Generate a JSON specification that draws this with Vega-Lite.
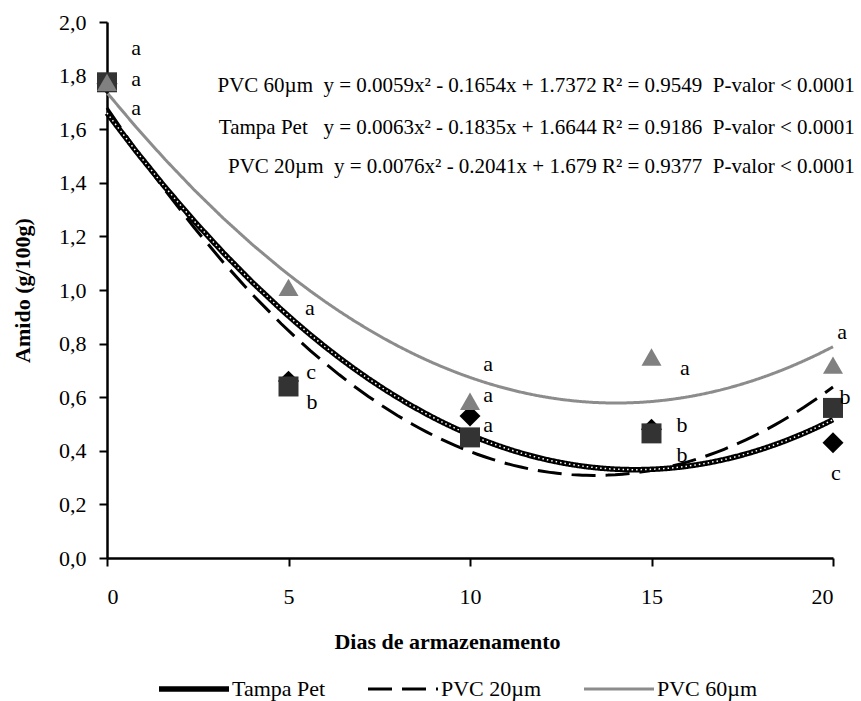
{
  "$schema": "https://vega.github.io/schema/vega-lite/v6.json",
  "width": 726,
  "height": 536,
  "autosize": {"type": "none"},
  "padding": {"left": 107, "top": 22, "right": 28, "bottom": 143},
  "background": "white",
  "config": {
    "view": {"stroke": null},
    "font": "Liberation Serif",
    "axis": {
      "grid": false,
      "domainColor": "black",
      "domainWidth": 2.5,
      "tickColor": "black",
      "tickWidth": 2,
      "tickSize": 8,
      "labelColor": "black",
      "labelFont": "Liberation Serif",
      "labelFontSize": 22,
      "titleFont": "Liberation Serif",
      "titleFontSize": 22,
      "titleFontWeight": "bold",
      "titleColor": "black"
    }
  },
  "datasets": {
    "pts": [
      {"serie": "Tampa Pet", "dia": 0, "amido": 1.77},
      {"serie": "Tampa Pet", "dia": 5, "amido": 0.66},
      {"serie": "Tampa Pet", "dia": 10, "amido": 0.53},
      {"serie": "Tampa Pet", "dia": 15, "amido": 0.48},
      {"serie": "Tampa Pet", "dia": 20, "amido": 0.43},
      {"serie": "PVC 20µm", "dia": 0, "amido": 1.775},
      {"serie": "PVC 20µm", "dia": 5, "amido": 0.64},
      {"serie": "PVC 20µm", "dia": 10, "amido": 0.45},
      {"serie": "PVC 20µm", "dia": 15, "amido": 0.465},
      {"serie": "PVC 20µm", "dia": 20, "amido": 0.56},
      {"serie": "PVC 60µm", "dia": 0, "amido": 1.775},
      {"serie": "PVC 60µm", "dia": 5, "amido": 1.01},
      {"serie": "PVC 60µm", "dia": 10, "amido": 0.585},
      {"serie": "PVC 60µm", "dia": 15, "amido": 0.75},
      {"serie": "PVC 60µm", "dia": 20, "amido": 0.72}
    ],
    "letras": [
      {"dia": 0.8, "amido": 1.903, "letra": "a"},
      {"dia": 0.8, "amido": 1.787, "letra": "a"},
      {"dia": 0.8, "amido": 1.679, "letra": "a"},
      {"dia": 5.59, "amido": 0.933, "letra": "a"},
      {"dia": 5.62, "amido": 0.694, "letra": "c"},
      {"dia": 5.65, "amido": 0.582, "letra": "b"},
      {"dia": 10.5, "amido": 0.724, "letra": "a"},
      {"dia": 10.5, "amido": 0.608, "letra": "a"},
      {"dia": 10.5, "amido": 0.496, "letra": "a"},
      {"dia": 15.92, "amido": 0.709, "letra": "a"},
      {"dia": 15.84, "amido": 0.496, "letra": "b"},
      {"dia": 15.84, "amido": 0.384, "letra": "b"},
      {"dia": 20.25, "amido": 0.843, "letra": "a"},
      {"dia": 20.33, "amido": 0.6, "letra": "b"},
      {"dia": 20.08, "amido": 0.317, "letra": "c"}
    ],
    "equacoes": [
      {"dia": 20.6, "amido": 1.761, "texto": "PVC 60µm\u00a0 y = 0.0059x² - 0.1654x + 1.7372 R² = 0.9549\u00a0 P-valor < 0.0001"},
      {"dia": 20.6, "amido": 1.604, "texto": "Tampa Pet\u00a0\u00a0 y = 0.0063x² - 0.1835x + 1.6644 R² = 0.9186\u00a0 P-valor < 0.0001"},
      {"dia": 20.6, "amido": 1.459, "texto": "PVC 20µm\u00a0 y = 0.0076x² - 0.2041x + 1.679 R² = 0.9377\u00a0 P-valor < 0.0001"}
    ]
  },
  "encoding": {
    "x": {
      "field": "dia",
      "type": "quantitative",
      "scale": {"domain": [0, 20], "nice": false},
      "axis": {
        "title": "Dias de armazenamento",
        "values": [0, 5, 10, 15, 20],
        "labelPadding": 20,
        "titlePadding": 24,
        "titleX": 340
      }
    },
    "y": {
      "field": "amido",
      "type": "quantitative",
      "scale": {"domain": [0, 2], "nice": false},
      "axis": {
        "title": "Amido (g/100g)",
        "values": [0, 0.2, 0.4, 0.6, 0.8, 1.0, 1.2, 1.4, 1.6, 1.8, 2.0],
        "labelExpr": "replace(format(datum.value, '.1f'), '.', ',')",
        "labelPadding": 13,
        "titlePadding": 24
      }
    }
  },
  "layer": [
    {
      "data": {"name": "pts"},
      "transform": [
        {"regression": "amido", "on": "dia", "groupby": ["serie"], "method": "poly", "order": 2, "extent": [0, 20]}
      ],
      "mark": {"type": "line", "strokeCap": "butt"},
      "encoding": {
        "color": {
          "field": "serie",
          "type": "nominal",
          "scale": {"domain": ["Tampa Pet", "PVC 20µm", "PVC 60µm"], "range": ["#000000", "#000000", "#8c8c8c"]},
          "legend": {
            "title": null,
            "orient": "none",
            "legendX": 76,
            "legendY": 656,
            "direction": "horizontal",
            "columns": 3,
            "symbolType": "stroke",
            "symbolSize": 4900,
            "symbolStrokeWidth": 3,
            "labelFont": "Liberation Serif",
            "labelFontSize": 22,
            "labelColor": "black",
            "labelOffset": 27,
            "labelLimit": 0,
            "columnPadding": 36,
            "encode": {
              "symbols": {
                "update": {
                  "strokeWidth": {"signal": "datum.value === 'Tampa Pet' ? 5.5 : 3"},
                  "strokeDash": {"signal": "datum.value === 'PVC 20µm' ? [30, 10] : [1, 0]"}
                }
              }
            }
          }
        },
        "strokeDash": {
          "field": "serie",
          "type": "nominal",
          "scale": {"domain": ["Tampa Pet", "PVC 20µm", "PVC 60µm"], "range": [[1, 0], [24, 10], [1, 0]]},
          "legend": {"title": null}
        },
        "strokeWidth": {
          "condition": {"test": "datum.serie === 'Tampa Pet'", "value": 5.5},
          "value": 3
        }
      }
    },
    {
      "data": {"name": "pts"},
      "transform": [
        {"filter": "datum.serie === 'Tampa Pet'"},
        {"regression": "amido", "on": "dia", "method": "poly", "order": 2, "extent": [0, 20]}
      ],
      "mark": {"type": "line", "color": "white", "strokeWidth": 1.5, "strokeDash": [1.5, 3]},
      "encoding": {}
    },
    {
      "data": {"name": "pts"},
      "transform": [{"filter": "datum.serie === 'Tampa Pet'"}],
      "mark": {"type": "point", "filled": true, "size": 440, "opacity": 1, "shape": "diamond", "color": "#000000"},
      "encoding": {}
    },
    {
      "data": {"name": "pts"},
      "transform": [{"filter": "datum.serie === 'PVC 20µm'"}],
      "mark": {"type": "point", "filled": true, "size": 400, "opacity": 1, "shape": "square", "color": "#333333"},
      "encoding": {}
    },
    {
      "data": {"name": "pts"},
      "transform": [{"filter": "datum.serie === 'PVC 60µm'"}],
      "mark": {"type": "point", "filled": true, "size": 400, "opacity": 1, "shape": "triangle-up", "color": "#808080"},
      "encoding": {}
    },
    {
      "data": {"name": "letras"},
      "mark": {"type": "text", "font": "Liberation Serif", "fontSize": 22, "align": "center", "baseline": "middle", "color": "black"},
      "encoding": {"text": {"field": "letra"}}
    },
    {
      "data": {"name": "equacoes"},
      "mark": {"type": "text", "font": "Liberation Serif", "fontSize": 21, "align": "right", "baseline": "middle", "color": "black"},
      "encoding": {"text": {"field": "texto"}}
    }
  ]
}
